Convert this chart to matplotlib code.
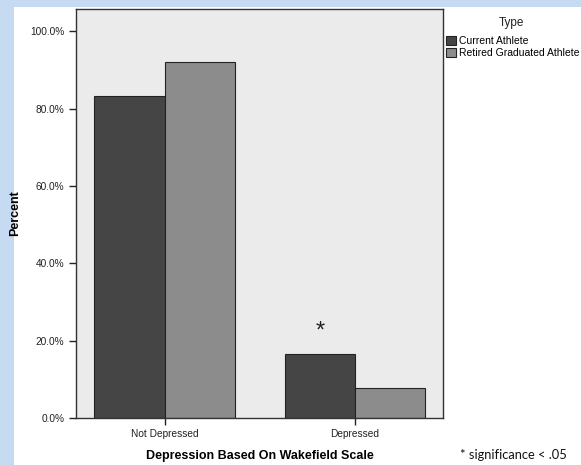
import numpy as np
import matplotlib.pyplot as plt
from matplotlib.patches import Rectangle

plt.rcParams['font.family'] = ['Liberation Sans', 'DejaVu Sans']

# data
categories = ['Not Depressed', 'Depressed']
current_athlete = [83.4, 16.6]
retired_athlete = [92.2, 7.8]
y_ticks = [0, 20, 40, 60, 80, 100]

fig = plt.figure(figsize=(5.81, 4.65), dpi=100)
fig.patch.set_facecolor('#c6daf1')
# white panel inside the blue frame
bg = Rectangle((14/581, 0), 1, 1 - 7/465, transform=fig.transFigure,
               facecolor='white', edgecolor='none', zorder=-10)
fig.add_artist(bg)

ax = fig.add_axes([76/581, 1 - 418/465, 367/581, 409/465])
ax.set_zorder(5)
ax.set_facecolor('#ebebeb')

x = np.arange(len(categories))
w = 0.37
ax.bar(x - w/2, current_athlete, w, color='#454545', edgecolor='#222222', linewidth=0.8,
       label='Current Athlete', zorder=2)
ax.bar(x + w/2, retired_athlete, w, color='#8c8c8c', edgecolor='#222222', linewidth=0.8,
       label='Retired Graduated Athlete', zorder=2)

ax.set_xlim(-0.466, 1.462)
ax.set_ylim(0, 105.8)
ax.set_yticks(y_ticks)
ax.set_yticklabels(['%.1f%%' % v for v in y_ticks])
ax.set_xticks(x)
ax.set_xticklabels(categories)
ax.tick_params(axis='both', direction='out', length=5, width=1, labelsize=7.3, colors='#222222')
ax.tick_params(axis='x', pad=3)

for s in ax.spines.values():
    s.set_color('#333333')
    s.set_linewidth(1)

ax.set_ylabel('Percent', fontsize=9, fontweight='bold', labelpad=6)
ax.set_xlabel('Depression Based On Wakefield Scale', fontsize=9, fontweight='bold', labelpad=8)

# significance mark above the depressed current athlete bar
ax.text(1 - w/2, 22.3, '*', ha='center', va='center', fontsize=17, color='#222222')

leg = ax.legend(loc='upper left', bbox_to_anchor=(446/581, 1 - 36/465),
                bbox_transform=fig.transFigure, frameon=False,
                fontsize=7.5, handlelength=1.0, handleheight=1.0,
                handletextpad=0.25, labelspacing=0.15, borderpad=0, borderaxespad=0)
fig.text(511/581, 1 - 23/465, 'Type', fontsize=8.5, ha='center', va='center', color='#222222')

fig.text(460/581, 1 - 455/465, '* significance < .05', fontsize=9.3, family='Lato',
         va='center', ha='left', color='#111111')

fig.savefig('out.png', dpi=100, facecolor=fig.get_facecolor())
